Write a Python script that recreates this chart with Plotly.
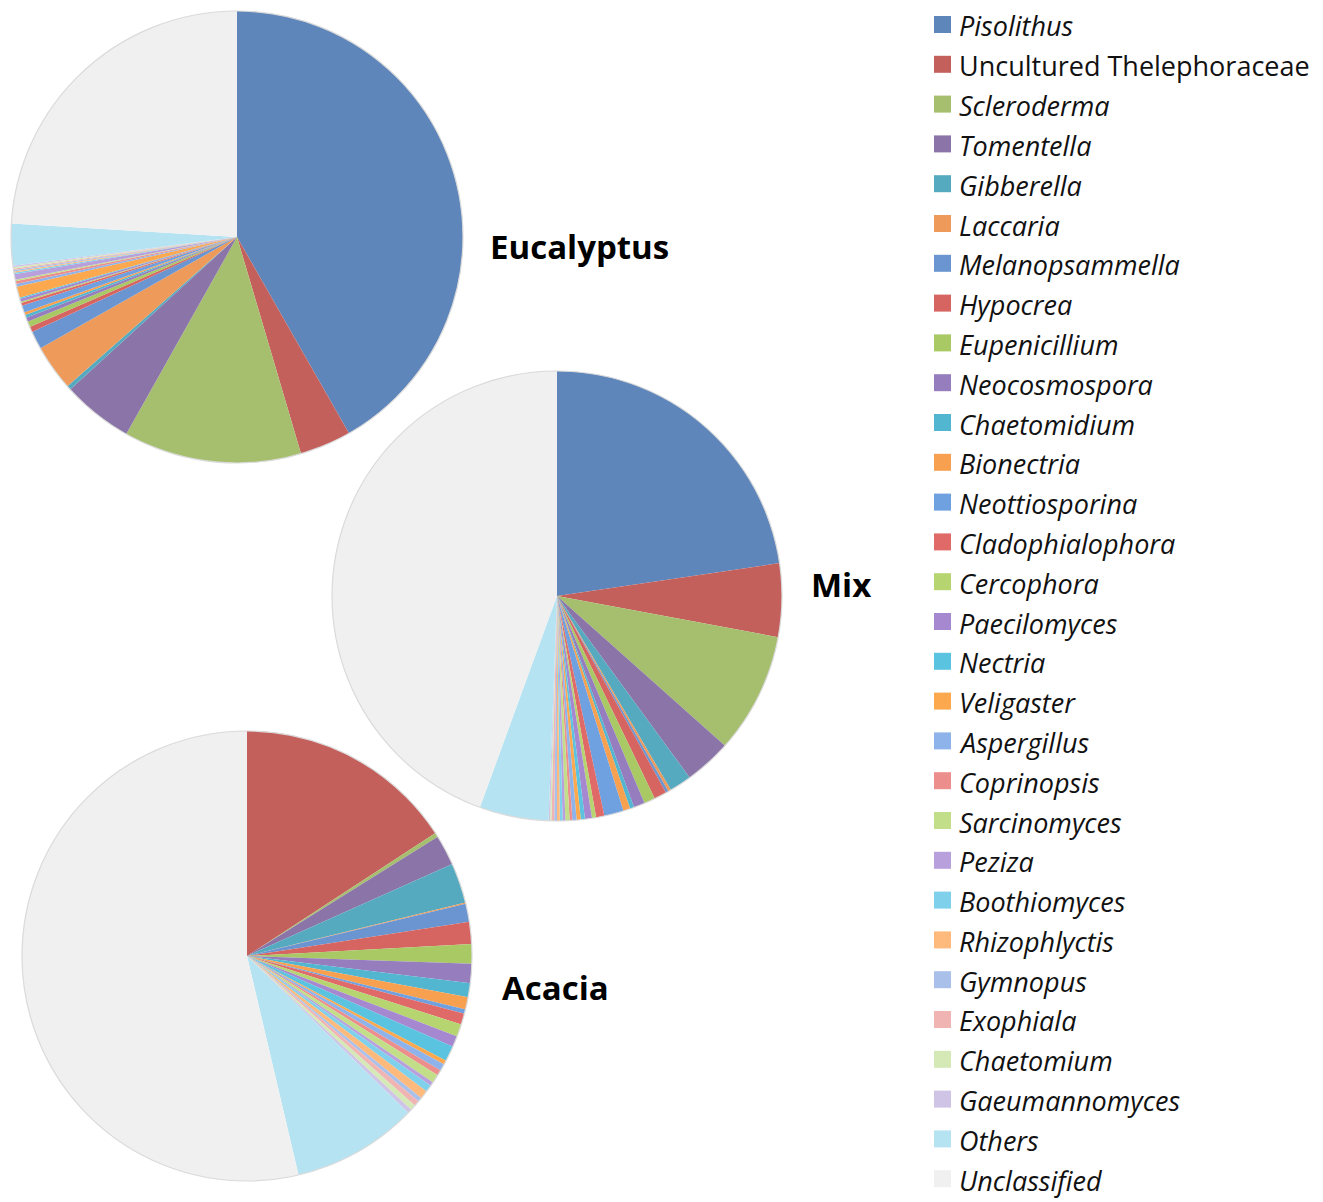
import plotly.graph_objects as go

genera = ["Pisolithus", "Uncultured Thelephoraceae", "Scleroderma", "Tomentella", "Gibberella",
          "Laccaria", "Melanopsammella", "Hypocrea", "Eupenicillium", "Neocosmospora",
          "Chaetomidium", "Bionectria", "Neottiosporina", "Cladophialophora", "Cercophora",
          "Paecilomyces", "Nectria", "Veligaster", "Aspergillus", "Coprinopsis",
          "Sarcinomyces", "Peziza", "Boothiomyces", "Rhizophlyctis", "Gymnopus",
          "Exophiala", "Chaetomium", "Gaeumannomyces", "Others", "Unclassified"]

italic_label = [True, False] + [True] * 28

eucalyptus = [42.0, 3.7, 12.8, 5.1, 0.3, 3.3, 1.3, 0.4, 0.4, 0.3,
              0.2, 0.2, 0.5, 0.2, 0.1, 0.2, 0.1, 0.8, 0.2, 0.2,
              0.1, 0.4, 0.1, 0.1, 0.1, 0.1, 0.1, 0.1, 3.0, 24.2]

mix = [22.8, 5.3, 8.7, 3.4, 1.6, 0.2, 0.2, 0.9, 0.8, 0.8,
       0.3, 0.5, 1.4, 0.6, 0.3, 0.5, 0.3, 0.3, 0.3, 0.2,
       0.3, 0.2, 0.2, 0.2, 0.2, 0.2, 0.1, 0.1, 5.0, 44.7]

acacia = [0.0, 15.9, 0.3, 2.2, 2.9, 0.1, 1.3, 1.6, 1.4, 1.4,
          1.0, 0.9, 0.3, 0.8, 0.9, 0.8, 1.1, 0.3, 0.5, 0.4,
          0.6, 0.3, 0.5, 0.6, 0.3, 0.4, 0.4, 0.3, 9.1, 54.0]

colors = ["#5F86BA", "#C4605C", "#A6BF6E", "#8B74A8", "#55AABF",
          "#EE9A5A", "#6A95D0", "#D66562", "#A9C964", "#957DBE",
          "#52B6D0", "#F7A050", "#6FA0E0", "#E06A68", "#B6D470",
          "#A588D0", "#5AC3E0", "#FBA84F", "#8EB3EA", "#EC8E8C",
          "#C3DE88", "#B8A0DC", "#7FD0EA", "#FDBA7C", "#A9C1EA",
          "#F0B4B3", "#D4E9B6", "#CFC3E6", "#B5E3F2", "#F0F0F0"]

OFF = 8  # page body margin
W, H = 1323 - OFF, 1202 - OFF


def px(x):
    return (x - OFF) / W


def py(y):
    return 1 - (y - OFF) / H


# pie geometry in pixels: (center x, center y, radius, label x, label y)
pies = [("Eucalyptus", eucalyptus, 237, 237, 226, 488, 247),
        ("Mix", mix, 557, 596, 225, 809, 584),
        ("Acacia", acacia, 247, 956, 225, 500, 987)]

fig = go.Figure()
shapes = []
annotations = []

for name, vals, cx, cy, r, lx, ly in pies:
    fig.add_trace(go.Pie(
        labels=genera, values=vals, name=name,
        sort=False, direction="clockwise", rotation=0,
        textinfo="none", showlegend=False,
        marker=dict(colors=colors, line=dict(width=0)),
        domain=dict(x=[px(cx - r), px(cx + r)], y=[py(cy + r), py(cy - r)]),
    ))
    shapes.append(dict(type="circle", xref="paper", yref="paper",
                       x0=px(cx - r), x1=px(cx + r), y0=py(cy + r), y1=py(cy - r),
                       line=dict(color="#DADADA", width=1.2), layer="above"))
    annotations.append(dict(text="<b>%s</b>" % name, x=px(lx), y=py(ly),
                            xref="paper", yref="paper", xanchor="left", yanchor="middle",
                            showarrow=False,
                            font=dict(size=33, color="#000000", family="Open Sans")))

# legend
leg_x, leg_y0, leg_dy = 958, 26, 39.8
for i, (g, c, it) in enumerate(zip(genera, colors, italic_label)):
    yc = leg_y0 + i * leg_dy
    shapes.append(dict(type="rect", xref="paper", yref="paper",
                       x0=px(934), x1=px(951), y0=py(yc + 7), y1=py(yc - 10),
                       fillcolor=c, line=dict(width=0)))
    txt = "<i>%s</i>" % g if it else g
    annotations.append(dict(text=txt, x=px(leg_x), y=py(yc),
                            xref="paper", yref="paper", xanchor="left", yanchor="middle",
                            showarrow=False, borderpad=0,
                            font=dict(size=27, color="#111111", family="Open Sans")))

fig.update_layout(
    width=W, height=H,
    margin=dict(l=0, r=0, t=0, b=0),
    paper_bgcolor="white", plot_bgcolor="white",
    font=dict(family="Open Sans, sans-serif"),
    shapes=shapes, annotations=annotations,
)

fig.write_html("out.html")
